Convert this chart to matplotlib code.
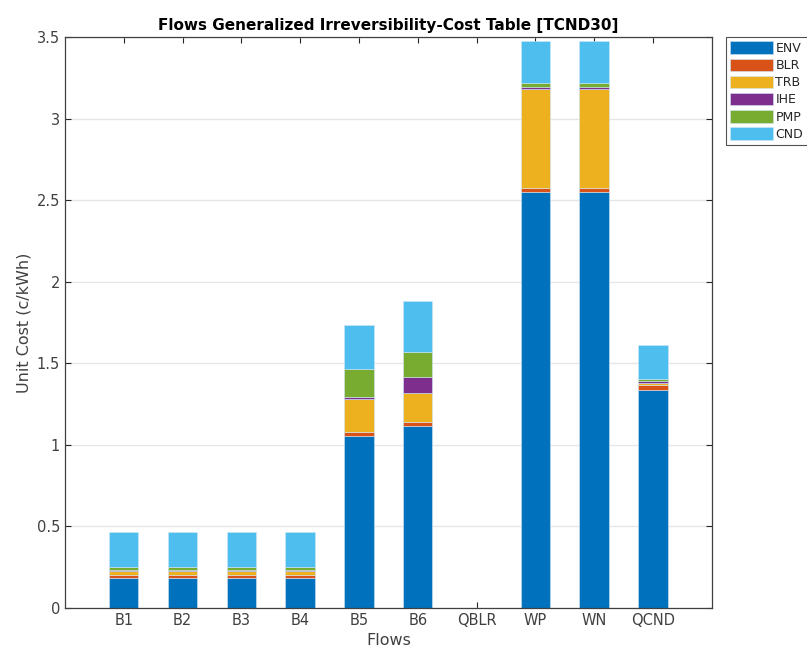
import numpy as np
import matplotlib.pyplot as plt

flows = ['B1', 'B2', 'B3', 'B4', 'B5', 'B6', 'QBLR', 'WP', 'WN', 'QCND']
processes = ['ENV', 'BLR', 'TRB', 'IHE', 'PMP', 'CND']

env = [0.184, 0.184, 0.184, 0.184, 1.055, 1.118, 0.0, 2.552, 2.552, 1.338]
blr = [0.016, 0.016, 0.016, 0.016, 0.024, 0.024, 0.0, 0.025, 0.025, 0.027]
trb = [0.025, 0.025, 0.025, 0.025, 0.200, 0.174, 0.0, 0.603, 0.603, 0.016]
ihe = [0.010, 0.010, 0.010, 0.010, 0.014, 0.102, 0.0, 0.014, 0.014, 0.011]
pmp = [0.018, 0.018, 0.018, 0.018, 0.171, 0.150, 0.0, 0.023, 0.023, 0.012]
cnd = [0.210, 0.210, 0.210, 0.210, 0.270, 0.314, 0.0, 0.261, 0.261, 0.209]

colours = ['#0072BD', '#D95319', '#EDB120', '#7E2F8E', '#77AC30', '#4DBEEE']

fig = plt.figure(figsize=(8.07, 6.59), dpi=100)
ax = fig.add_axes([0.0805, 0.0774, 0.8015, 0.8665])

x = np.arange(1, len(flows) + 1)
bottom = np.zeros(len(flows))
handles = []
for vals, name, c in zip([env, blr, trb, ihe, pmp, cnd], processes, colours):
    vals = np.array(vals)
    h = ax.bar(x, vals, width=0.5, bottom=bottom, color=c, label=name,
               edgecolor='#cfe6f5', linewidth=0.4)
    handles.append(h)
    bottom += vals

ax.set_xlim(0, 11)
ax.set_ylim(0, 3.5)
ax.set_xticks(x)
ax.set_xticklabels(flows)
ax.set_yticks([0, 0.5, 1, 1.5, 2, 2.5, 3, 3.5])
ax.set_yticklabels(['0', '0.5', '1', '1.5', '2', '2.5', '3', '3.5'])
ax.tick_params(direction='in', top=True, right=True, labelsize=10.5,
               colors='#262626', labelcolor='#404040', length=4)
ax.yaxis.grid(True, color='#e6e6e6', linewidth=1)
ax.set_axisbelow(True)
for s in ax.spines.values():
    s.set_color('#404040')
    s.set_linewidth(0.9)

ax.set_title('Flows Generalized Irreversibility-Cost Table [TCND30]',
             fontsize=11, fontweight='bold', color='black', pad=5)
ax.set_xlabel('Flows', fontsize=11.5, color='#404040')
ax.set_ylabel('Unit Cost (c/kWh)', fontsize=11.5, color='#404040')

leg = fig.legend(handles=handles, labels=processes, loc='upper left',
                 bbox_to_anchor=(726 / 807, 1 - 37 / 659), fontsize=9,
                 frameon=True, fancybox=False, edgecolor='#262626',
                 handlelength=3.4, handleheight=1.15, handletextpad=0.2,
                 labelspacing=0.3, borderpad=0.35, borderaxespad=0)
leg.get_frame().set_linewidth(0.8)
for t in leg.get_texts():
    t.set_color('#262626')

fig.savefig('out.png', dpi=100)
